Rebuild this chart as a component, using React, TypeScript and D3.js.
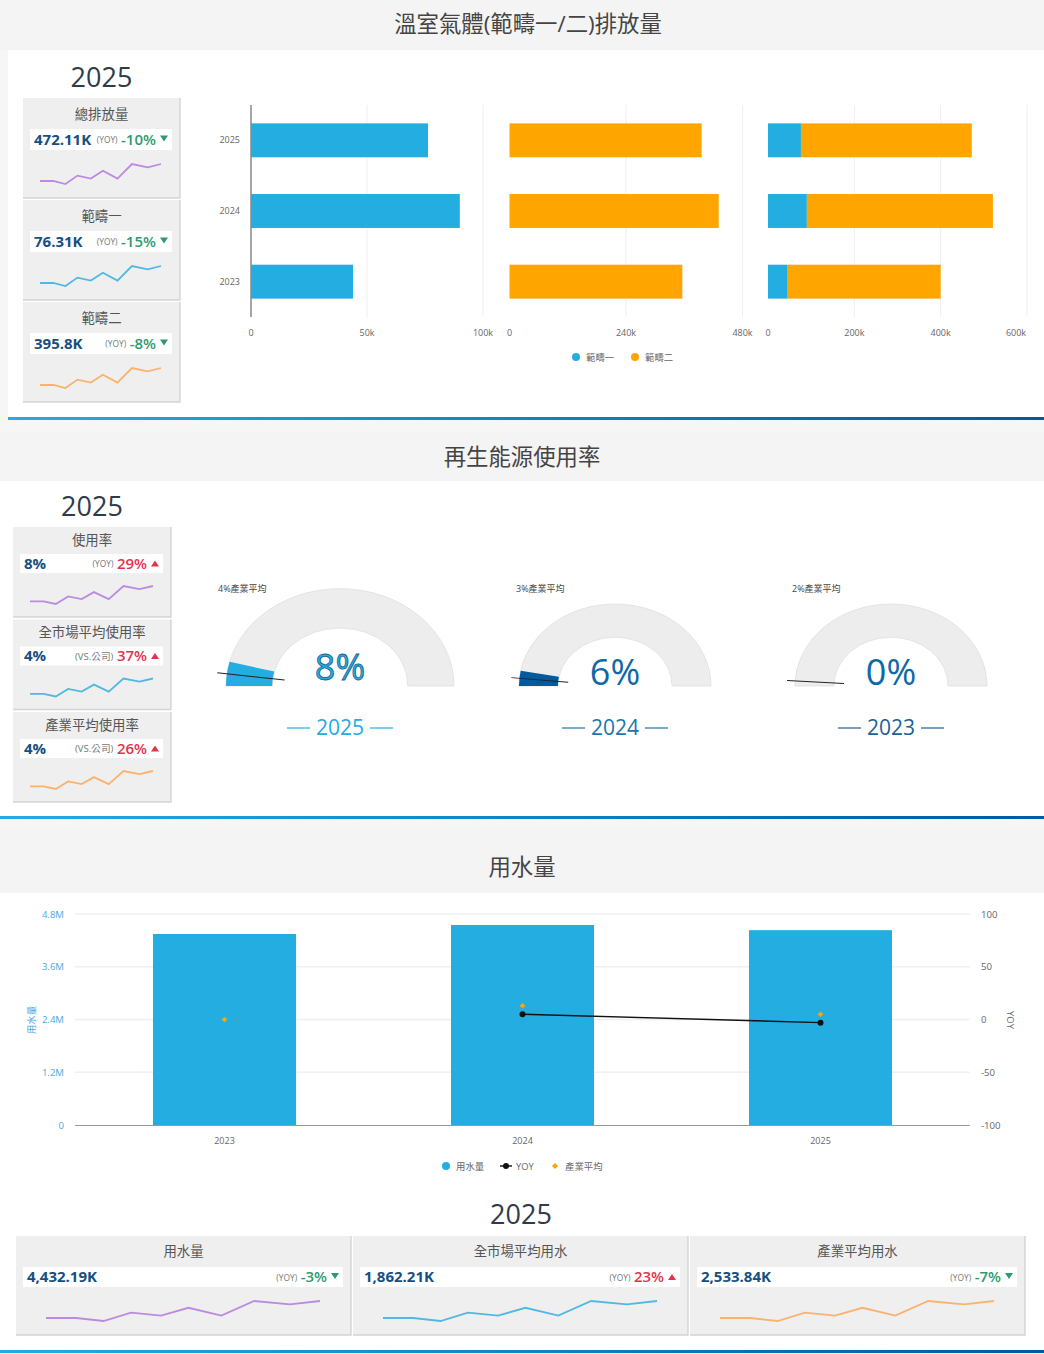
import React from 'react';
import * as d3 from 'd3';

const FONT = '"Open Sans", "Noto Sans CJK TC", sans-serif';
const BLUE = '#23ade0';
const NAVY = '#005a9e';
const ORANGE = '#ffa500';
const PURPLE = '#bd8ae2';
const SKY = '#4fb9e3';
const PEACH = '#f9b36c';
const GREEN = '#2e9a70';
const RED = '#e2334e';

// emissions by year
const years = ['2025', '2024', '2023'];
const scope1 = [76.31, 90, 44];
const scope2 = [395.8, 431, 356];
const scope1Ticks = [0, 50, 100];
const scope2Ticks = [0, 240, 480];
const stackTicks = [0, 200, 400, 600];

// sparkline shape shared by the KPI cards
const sparkPos = [0, 11, 21, 31, 42, 52, 64, 76, 89, 100];
const sparkVals = [15, 15, 0, 42, 27, 66, 27, 100, 83, 100];

const emissionTitles = ['總排放量', '範疇一', '範疇二'];
const emissionValues = ['472.11K', '76.31K', '395.8K'];
const emissionChanges = [-10, -15, -8];

const renewTitles = ['使用率', '全市場平均使用率', '產業平均使用率'];
const renewValues = ['8%', '4%', '4%'];
const renewNotes = ['(YOY)', '(VS.公司)', '(VS.公司)'];
const renewChanges = [29, 37, 26];

const gaugeYears = ['2025', '2024', '2023'];
const gaugeValues = [8, 6, 0];
const gaugeAvg = [4, 3, 2];

const waterYears = ['2023', '2024', '2025'];
const waterUse = [4.345, 4.55, 4.432];
const waterYoy: (number | null)[] = [null, 5, -3];
const waterAvg = [0, 13, 5];
const waterTicks = [0, 1.2, 2.4, 3.6, 4.8];
const yoyTicks = [-100, -50, 0, 50, 100];

const waterTitles = ['用水量', '全市場平均用水', '產業平均用水'];
const waterValues = ['4,432.19K', '1,862.21K', '2,533.84K'];
const waterChanges = [-3, 23, -7];

const sparkColors = [PURPLE, SKY, PEACH];

interface CardProps {
  x: number; y: number; w: number; h: number;
  title: string; value: string; note: string; change: number; color: string;
  whiteY: number; whiteH: number; titleY: number;
  sparkX0: number; sparkX1: number; sparkTop: number; sparkBottom: number;
}

const Card = (p: CardProps) => {
  const sx = d3.scaleLinear().domain([0, 100]).range([p.sparkX0, p.sparkX1]);
  const sy = d3.scaleLinear().domain([0, 100]).range([p.y + p.sparkBottom, p.y + p.sparkTop]);
  const line = d3.line<number>().x((_, i) => sx(sparkPos[i])).y(d => sy(d));
  const left = p.x + 7;
  const right = p.x + p.w - 8;
  const midY = p.y + p.whiteY + p.whiteH / 2;
  const up = p.change > 0;
  const triX = right - 8;
  const pctEnd = triX - 8;
  // rough width of the percent text, the note sits just left of it
  const digits = String(Math.abs(p.change)).length;
  const pctWidth = (digits * 0.572 + 0.83 + (p.change < 0 ? 0.32 : 0)) * 15;
  return (
    <g>
      <rect x={p.x} y={p.y} width={p.w} height={p.h} fill="#efefef" />
      <path d={`M${p.x + p.w},${p.y}V${p.y + p.h}H${p.x}`} fill="none" stroke="#d4d4d4" strokeWidth={1.4} />
      <text x={p.x + p.w / 2} y={p.y + p.titleY} textAnchor="middle" fontSize={13.4} fill="#555">{p.title}</text>
      <rect x={left} y={p.y + p.whiteY} width={right - left} height={p.whiteH} fill="#fff" />
      <text x={left + 4} y={midY + 5} fontSize={15} fontWeight={700} fill="#164f80">{p.value}</text>
      <text x={pctEnd} y={midY + 5} textAnchor="end" fontSize={15} fontWeight={600} fill={up ? RED : GREEN}>{p.change}%</text>
      <text x={pctEnd - pctWidth - 4} y={midY + 3.5} textAnchor="end" fontSize={p.note.length > 5 ? 9.6 : 8.4} fill="#777">{p.note}</text>
      <path d={up ? `M${triX - 4},${midY + 3}h8l-4,-6z` : `M${triX - 4},${midY - 4}h8l-4,6z`} fill={up ? RED : GREEN} />
      <path d={line(sparkVals) ?? ''} fill="none" stroke={p.color} strokeWidth={1.8} />
    </g>
  );
};

const Header = ({ y, h, label, cx, cy }: { y: number; h: number; label: string; cx: number; cy: number }) => (
  <g>
    <rect x={0} y={y} width={1044} height={h} fill="#f4f4f4" />
    <text x={cx} y={cy} textAnchor="middle" fontSize={22.4} fill="#444">{label}</text>
  </g>
);

const Legend = ({ items, y }: { items: { x: number; label: string; color: string }[]; y: number }) => (
  <g>
    {items.map(d => (
      <g key={d.label}>
        <circle cx={d.x} cy={y} r={4} fill={d.color} />
        <text x={d.x + 10} y={y + 3.5} fontSize={9.4} fill="#666">{d.label}</text>
      </g>
    ))}
  </g>
);

const BarPanels = () => {
  const y = d3.scaleBand<string>().domain(years).range([105, 317]).paddingInner(0.52).paddingOuter(0.26);
  const x1 = d3.scaleLinear().domain([0, 100]).range([251, 483]);
  const x2 = d3.scaleLinear().domain([0, 480]).range([509.5, 742.5]);
  const x3 = d3.scaleLinear().domain([0, 600]).range([768, 1027]);
  const axis = (sc: d3.ScaleLinear<number, number>, ticks: number[], shift = false) =>
    ticks.map((t, i) => (
      <g key={t}>
        {t !== 0 && <line x1={sc(t)} x2={sc(t)} y1={105} y2={317} stroke="#efefef" />}
        <text x={shift && i === ticks.length - 1 ? sc(t) - 11 : sc(t)} y={336} textAnchor="middle" fontSize={9} fill="#666">
          {t === 0 ? '0' : `${t}k`}
        </text>
      </g>
    ));
  return (
    <g>
      {axis(x1, scope1Ticks)}
      {axis(x2, scope2Ticks)}
      {axis(x3, stackTicks, true)}
      <line x1={251} x2={251} y1={105} y2={317} stroke="#a5a5a5" strokeWidth={2} />
      {years.map((yr, i) => {
        const by = y(yr) as number;
        const bh = y.bandwidth();
        return (
          <g key={yr}>
            <text x={240} y={by + bh / 2 + 3} textAnchor="end" fontSize={9} fill="#666">{yr}</text>
            <rect x={x1(0)} y={by} width={x1(scope1[i]) - x1(0)} height={bh} fill={BLUE} />
            <rect x={x2(0)} y={by} width={x2(scope2[i]) - x2(0)} height={bh} fill={ORANGE} />
            <rect x={x3(0)} y={by} width={x3(scope1[i]) - x3(0)} height={bh} fill={BLUE} />
            <rect x={x3(scope1[i])} y={by} width={x3(scope2[i]) - x3(0)} height={bh} fill={ORANGE} />
          </g>
        );
      })}
      <Legend y={357} items={[{ x: 576, label: '範疇一', color: BLUE }, { x: 635, label: '範疇二', color: ORANGE }]} />
    </g>
  );
};

const gaugeLayouts = [
  { cx: 340, r: 114, labelX: 218, fill: BLUE, text: BLUE, outline: '#1c5f8f', yearColor: BLUE, textY: 680 },
  { cx: 615, r: 96, labelX: 516, fill: NAVY, text: '#0f68a8', outline: 'none', yearColor: '#1b74ad', textY: 685 },
  { cx: 891, r: 96, labelX: 792, fill: NAVY, text: '#0f68a8', outline: 'none', yearColor: '#1d5f97', textY: 685 },
];

const Gauge = ({ index }: { index: number }) => {
  const g = gaugeLayouts[index];
  const angle = d3.scaleLinear().domain([0, 100]).range([-Math.PI / 2, Math.PI / 2]);
  const inner = g.r * 0.595;
  const arc = d3.arc<{ endAngle: number }>()
    .innerRadius(inner)
    .outerRadius(g.r)
    .startAngle(-Math.PI / 2);
  const a = angle(gaugeAvg[index]);
  const tick = d3.lineRadial<number>().angle(() => a).radius(d => d);
  const yr = gaugeYears[index];
  return (
    <g>
      <g transform={`translate(${g.cx},686) scale(1,0.854)`}>
        <path d={arc({ endAngle: Math.PI / 2 }) ?? ''} fill="#ededed" stroke="#e2e2e2" />
        {gaugeValues[index] > 0 && <path d={arc({ endAngle: angle(gaugeValues[index]) }) ?? ''} fill={g.fill} />}
        <path d={tick([g.r * 0.49, g.r * 1.085]) ?? ''} stroke="#222" strokeWidth={1.1} fill="none" />
      </g>
      <text x={g.labelX} y={592} fontSize={9} fill="#444">{gaugeAvg[index]}%產業平均</text>
      <text x={g.cx} y={g.textY} textAnchor="middle" fontSize={36} fill={g.text} stroke={g.outline} strokeWidth={0.8}>{gaugeValues[index]}%</text>
      <text x={g.cx} y={735} textAnchor="middle" fontSize={21} fill={g.yearColor}>{yr}</text>
      <line x1={g.cx - 53} x2={g.cx - 30} y1={728} y2={728} stroke={g.yearColor} strokeWidth={1.2} />
      <line x1={g.cx + 30} x2={g.cx + 53} y1={728} y2={728} stroke={g.yearColor} strokeWidth={1.2} />
    </g>
  );
};

const WaterChart = () => {
  const x = d3.scaleBand<string>().domain(waterYears).range([75.5, 969.5]).paddingInner(0.52).paddingOuter(0.26);
  const y = d3.scaleLinear().domain([0, 4.8]).range([1125, 914]);
  const yy = d3.scaleLinear().domain([-100, 100]).range([1125, 914]);
  const cx = (d: string) => (x(d) as number) + x.bandwidth() / 2;
  const pts = waterYears.map((d, i) => ({ d, v: waterYoy[i] })).filter(p => p.v !== null);
  const line = d3.line<{ d: string; v: number | null }>().x(p => cx(p.d)).y(p => yy(p.v as number));
  return (
    <g>
      {waterTicks.map(t => (
        <g key={t}>
          {t !== 0 && <line x1={75} x2={970} y1={y(t)} y2={y(t)} stroke="#f0f0f0" strokeWidth={1.5} />}
          <text x={64} y={y(t) + 3.5} textAnchor="end" fontSize={9.6} fill="#4ba8e0">{t === 0 ? '0' : `${t}M`}</text>
        </g>
      ))}
      {yoyTicks.map(t => (
        <text key={t} x={981} y={yy(t) + 3.5} fontSize={9.6} fill="#666">{t}</text>
      ))}
      <text transform="translate(29,1020) rotate(-90)" dy="6" textAnchor="middle" fontSize={9.4} fill="#4ba8e0">用水量</text>
      <text transform="translate(1007,1020) rotate(90)" textAnchor="middle" fontSize={9.4} fill="#666">YOY</text>
      {waterYears.map((d, i) => (
        <g key={d}>
          <rect x={x(d)} y={y(waterUse[i])} width={x.bandwidth()} height={y(0) - y(waterUse[i])} fill={BLUE} />
          <text x={cx(d)} y={1144} textAnchor="middle" fontSize={9} fill="#666">{d}</text>
        </g>
      ))}
      <line x1={75} x2={970} y1={1125.5} y2={1125.5} stroke="#999" strokeWidth={1.2} />
      <path d={line(pts) ?? ''} fill="none" stroke="#111" strokeWidth={1.4} />
      {pts.map(p => <circle key={p.d} cx={cx(p.d)} cy={yy(p.v as number)} r={3} fill="#111" />)}
      {waterYears.map((d, i) => {
        const c = cx(d);
        const v = yy(waterAvg[i]);
        return <path key={d} d={`M${c},${v - 2.8}L${c + 2.8},${v}L${c},${v + 2.8}L${c - 2.8},${v}Z`} fill={ORANGE} />;
      })}
      <Legend y={1166} items={[{ x: 446, label: '用水量', color: BLUE }]} />
      <line x1={500} x2={512} y1={1166} y2={1166} stroke="#111" strokeWidth={1.4} />
      <circle cx={506} cy={1166} r={3} fill="#111" />
      <text x={516} y={1169.5} fontSize={9.4} fill="#666">YOY</text>
      <path d="M555,1163L558,1166L555,1169L552,1166Z" fill={ORANGE} />
      <text x={565} y={1169.5} fontSize={9.4} fill="#666">產業平均</text>
    </g>
  );
};

const Rule = ({ x, y, h }: { x: number; y: number; h: number }) => (
  <rect x={x} y={y} width={1044 - x} height={h} fill="url(#ruleGrad)" />
);

const App = () => (
  <svg width={1044} height={1354} style={{ position: 'absolute', left: 0, top: 0, fontFamily: FONT }}>
    <defs>
      <linearGradient id="ruleGrad" x1="0" x2="1" y1="0" y2="0">
        <stop offset="0%" stopColor={BLUE} />
        <stop offset="100%" stopColor={NAVY} />
      </linearGradient>
    </defs>
    <rect width={1044} height={1354} fill="#f6f6f6" />

    {/* emissions */}
    <rect x={8} y={50} width={1036} height={367} fill="#fff" />
    <Header y={0} h={50} label="溫室氣體(範疇一/二)排放量" cx={528} cy={32} />
    <Rule x={8} y={417} h={3} />
    <text x={101.5} y={87} textAnchor="middle" fontSize={27} fill="#2f3b4b">2025</text>
    {emissionTitles.map((t, i) => (
      <Card key={t} x={23} y={98 + i * 102} w={157} h={100} title={t} value={emissionValues[i]} note="(YOY)"
        change={emissionChanges[i]} color={sparkColors[i]} whiteY={31} whiteH={21} titleY={21}
        sparkX0={40} sparkX1={161} sparkTop={66} sparkBottom={86} />
    ))}
    <BarPanels />

    {/* renewable energy */}
    <rect x={0} y={481} width={1044} height={335} fill="#fff" />
    <Header y={433} h={48} label="再生能源使用率" cx={522} cy={465} />
    <Rule x={0} y={816} h={3} />
    <text x={92} y={516} textAnchor="middle" fontSize={27} fill="#2f3b4b">2025</text>
    {renewTitles.map((t, i) => (
      <Card key={t} x={13} y={527 + i * 92.5} w={158} h={90} title={t} value={renewValues[i]} note={renewNotes[i]}
        change={renewChanges[i]} color={sparkColors[i]} whiteY={27} whiteH={19} titleY={17.5}
        sparkX0={30} sparkX1={153} sparkTop={59} sparkBottom={77} />
    ))}
    {gaugeYears.map((yr, i) => <Gauge key={yr} index={i} />)}

    {/* water */}
    <rect x={0} y={893} width={1044} height={457} fill="#fff" />
    <Header y={829} h={64} label="用水量" cx={522} cy={875} />
    <Rule x={0} y={1350} h={3} />
    <WaterChart />
    <text x={521} y={1224} textAnchor="middle" fontSize={27} fill="#2f3b4b">2025</text>
    {waterTitles.map((t, i) => (
      <Card key={t} x={16 + i * 337} y={1236} w={335} h={99} title={t} value={waterValues[i]} note="(YOY)"
        change={waterChanges[i]} color={sparkColors[i]} whiteY={31} whiteH={20} titleY={20}
        sparkX0={46 + i * 337} sparkX1={320 + i * 337} sparkTop={65} sparkBottom={85} />
    ))}
  </svg>
);

export default App;
